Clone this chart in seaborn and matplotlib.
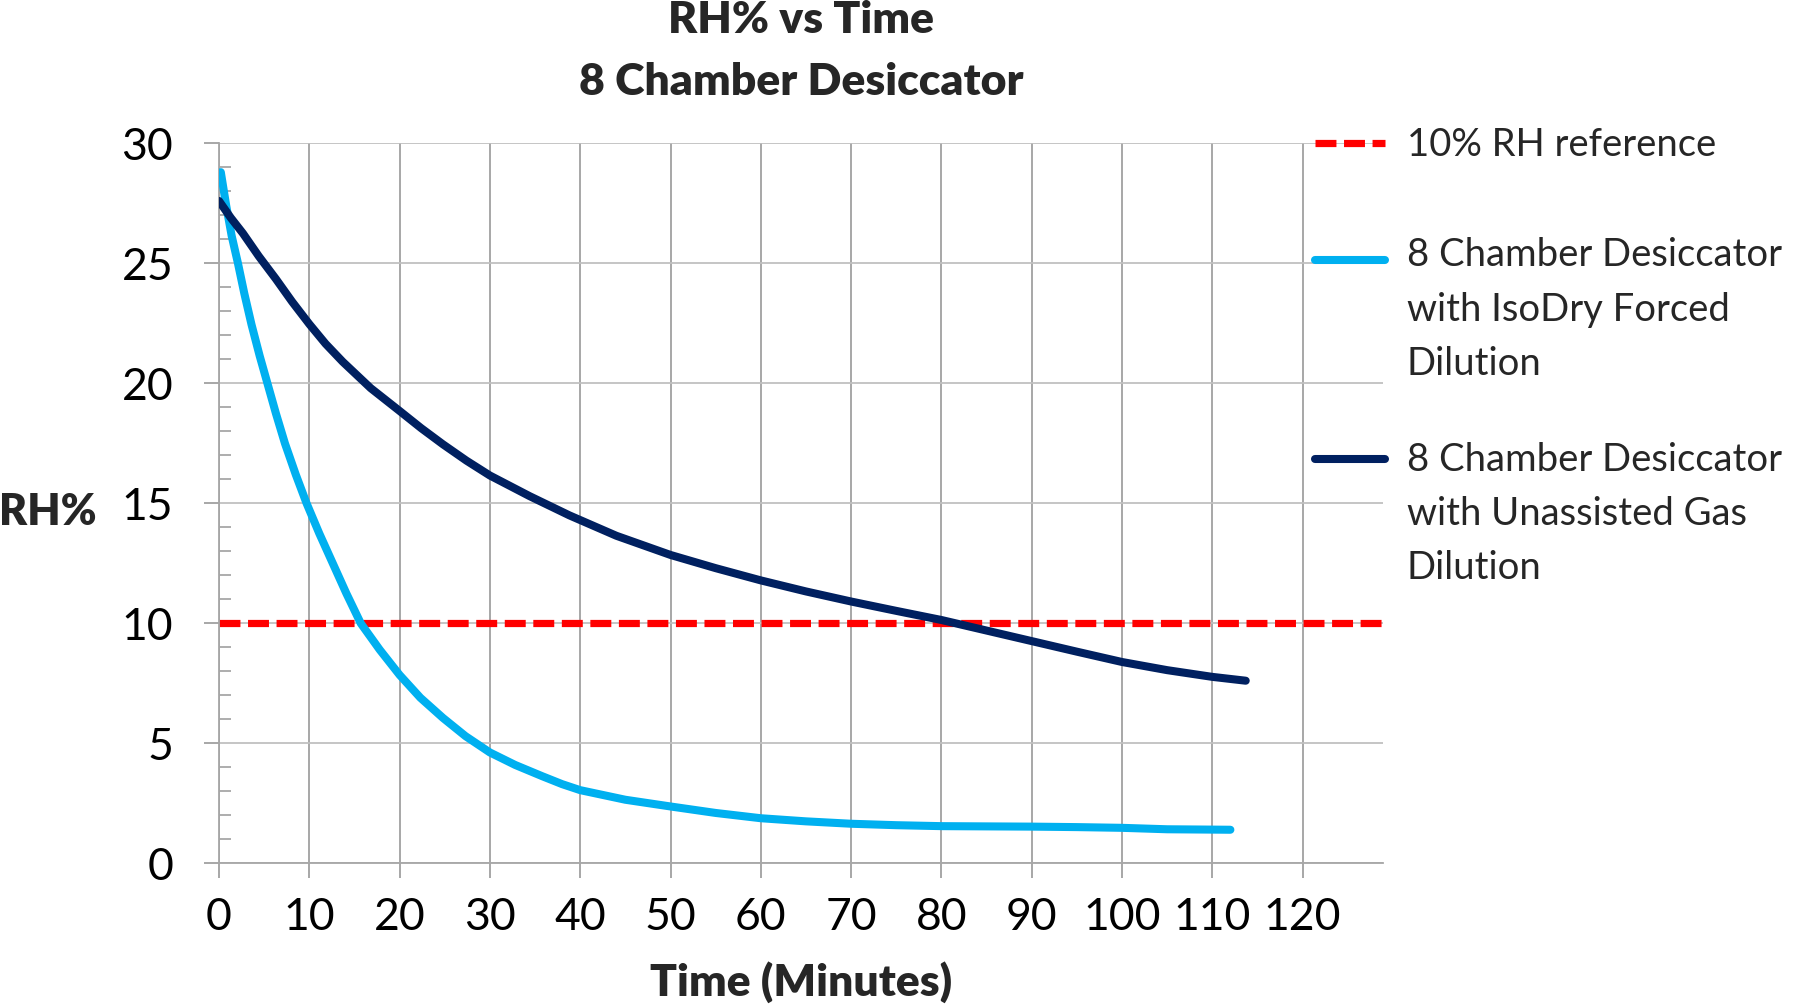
import matplotlib
matplotlib.use("Agg")
import matplotlib.pyplot as plt
from matplotlib.ticker import MultipleLocator, NullLocator
import seaborn as sns

# values (time in minutes, RH in %)
iso_time = [0.2, 0.8, 1.4, 2.1, 2.8, 3.6, 4.5, 5.4, 6.3, 7.3, 8.5, 9.7, 11.1, 12.6, 14.1,
            15.7, 17.8, 20, 22.3, 24.8, 27.3, 30, 32.8, 35.8, 38, 40, 45, 50, 55, 60,
            65, 70, 75, 80, 85, 90, 95, 100, 105, 112]
iso_rh = [28.8, 27.4, 26.15, 25.0, 23.75, 22.45, 21.15, 19.95, 18.75, 17.5, 16.2, 15.0, 13.75, 12.5, 11.25,
          10.0, 8.9, 7.85, 6.9, 6.06, 5.3, 4.62, 4.1, 3.63, 3.3, 3.05, 2.65, 2.37, 2.1, 1.88,
          1.75, 1.65, 1.59, 1.55, 1.54, 1.53, 1.51, 1.48, 1.42, 1.40]

gas_time = [0, 1.3, 2.65, 4.4, 6.3, 8.1, 10, 11.8, 13.7, 16.8, 20, 22.4, 24.8, 27.4, 30,
            34.4, 38.8, 44, 50, 55, 60, 65, 70, 75, 80, 85, 90, 95, 100, 105, 110, 113.7]
gas_rh = [27.6, 26.9, 26.25, 25.3, 24.35, 23.4, 22.47, 21.65, 20.9, 19.8, 18.85, 18.13, 17.46, 16.78, 16.16,
          15.3, 14.5, 13.65, 12.85, 12.3, 11.79, 11.33, 10.91, 10.52, 10.14, 9.7, 9.26, 8.82, 8.39, 8.05, 7.77, 7.61]

ref_rh = 10

labels = ["10% RH reference",
          "8 Chamber Desiccator\nwith IsoDry Forced\nDilution",
          "8 Chamber Desiccator\nwith Unassisted Gas\nDilution"]
x_ticks = list(range(0, 121, 10))
y_ticks = [0, 5, 10, 15, 20, 25, 30]

light_blue = "#00B0F0"
navy = "#002060"
red = "#FF0000"

sns.set_style("white")
plt.rcParams['font.family'] = ['Lato', 'DejaVu Sans']

fig = plt.figure(figsize=(18.01, 10.06), dpi=100)
ax = fig.add_axes([0.1216, 0.1418, 0.6463, 0.7157])

ref = ax.axhline(ref_rh, color=red, lw=5.2, dashes=(2.9, 1.05), zorder=2)
sns.lineplot(x=iso_time, y=iso_rh, color=light_blue, lw=5.8, sort=False, estimator=None,
             solid_capstyle='round', solid_joinstyle='round', ax=ax, zorder=3)
sns.lineplot(x=gas_time, y=gas_rh, color=navy, lw=5.8, sort=False, estimator=None,
             solid_capstyle='round', solid_joinstyle='round', ax=ax, zorder=4)
iso_line, gas_line = ax.lines[1], ax.lines[2]

ax.set_xlim(0, 128.9)
ax.set_ylim(0, 30)
ax.set_xticks(x_ticks)
ax.set_yticks(y_ticks)
ax.yaxis.set_minor_locator(MultipleLocator(1))
ax.xaxis.set_minor_locator(NullLocator())

ax.set_axisbelow(True)
ax.grid(axis='x', color='#a0a0a0', lw=1.3)
ax.grid(axis='y', color='#c0c0c0', lw=1.3)
for s in ['top', 'right']:
    ax.spines[s].set_visible(False)
for s in ['left', 'bottom']:
    ax.spines[s].set_color('#a6a6a6')
    ax.spines[s].set_linewidth(1.3)

ax.tick_params(axis='both', which='major', direction='out', length=11, width=1.3,
               color='#a0a0a0', labelsize=32, labelcolor='black', left=True, bottom=True)
ax.tick_params(axis='y', which='major', pad=22)
ax.tick_params(axis='x', which='major', pad=13.5)
ax.tick_params(axis='y', which='minor', direction='in', length=8.6, width=1.2,
               color='#a0a0a0', left=True)

ax.set_ylabel("RH%", rotation=0, fontsize=31, fontweight='heavy', ha='center', va='baseline')
ax.yaxis.set_label_coords(-0.147, 0.47)
ax.set_xlabel("Time (Minutes)", fontsize=32, fontweight='heavy', va='baseline')
ax.xaxis.set_label_coords(0.5, -0.184)

fig.text(0.4447, 0.9672, "RH% vs Time", ha='center', va='baseline', fontsize=32, fontweight='heavy')
fig.text(0.4447, 0.9056, "8 Chamber Desiccator", ha='center', va='baseline', fontsize=32, fontweight='heavy')

# taller handle box on the single-line entry gives it the extra gap seen in the original
leg = ax.legend([ref, iso_line, gas_line], labels, loc='upper left',
                bbox_to_anchor=(0.7302, 0.8893), bbox_transform=fig.transFigure,
                frameon=False, fontsize=27.5, handlelength=1.83, handletextpad=0.57,
                handleheight=2.29, labelspacing=1.565, borderpad=0, borderaxespad=0)
for t in leg.get_texts():
    t.set_linespacing(1.63)
# move each handle level with the first line of its label
for h, dy in zip(leg.legend_handles, [-6.5, 30.25, 33.6]):
    h.set_ydata(h.get_ydata() + dy)
for h in leg.legend_handles[1:]:
    h.set_solid_capstyle('round')

fig.savefig("out.png", dpi=100)
